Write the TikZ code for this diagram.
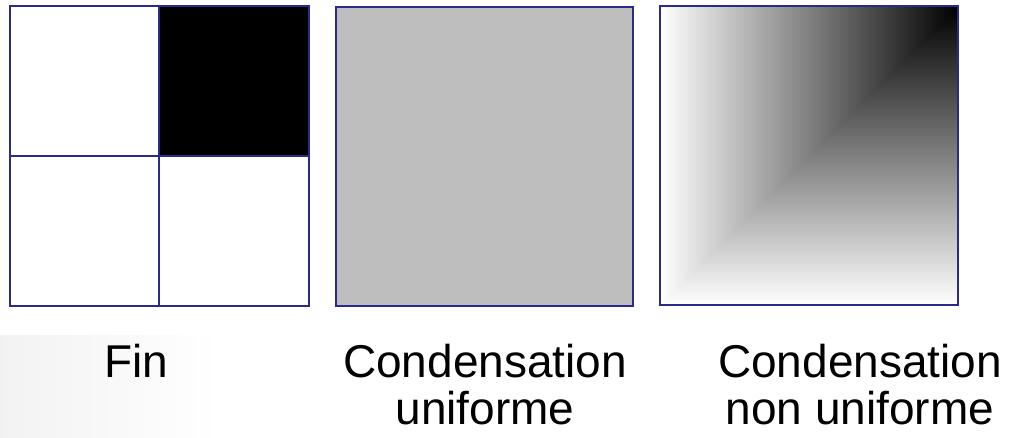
\documentclass[tikz,border=0pt]{standalone}
\usepackage{fontspec}
\setmainfont{Liberation Sans}
\definecolor{frame}{RGB}{42,42,140}
\definecolor{midgray}{RGB}{190,190,190}
\tikzset{
  cell/.style={draw=frame, line width=2pt},
  caption/.style={anchor=base, inner sep=0pt, font=\fontsize{46}{46}\selectfont}
}
\begin{document}
\begin{tikzpicture}[x=1pt, y=-1pt]
  \useasboundingbox (0,0) rectangle (1016,438);
  % faint backdrop in the lower left corner
  \shade[left color=black!5, right color=white, draw=none] (0,335) rectangle (220,438);

  % fine grid: four cells, one dark
  \fill[black] (159,6) rectangle (309,156);
  \draw[cell] (10,6) rectangle (309,306);
  \draw[cell] (159,6) -- (159,306);
  \draw[cell] (10,156) -- (309,156);

  % uniform condensation: one flat gray square
  \draw[cell, fill=midgray] (336,7) rectangle (633,306);

  % non-uniform condensation: darkness = min(x, height)
  \shade[bottom color=white, top color=black] (660,6) rectangle (958,305);
  \begin{scope}
    \clip (660,305) -- (660,6) -- (958,6) -- cycle;
    \shade[left color=white, right color=black] (660,6) rectangle (958,305);
  \end{scope}
  \draw[cell] (660,6) rectangle (958,305);

  % captions
  \node[caption] (fin) at (136,377) {Fin};
  \node[caption] (unia) at (485,377) {Condensation};
  \node[caption] (unib) at (485,424) {uniforme};
  \node[caption] (nonua) at (860,377) {Condensation};
  \node[caption] (nonub) at (860,424) {non uniforme};
\end{tikzpicture}
\end{document}
